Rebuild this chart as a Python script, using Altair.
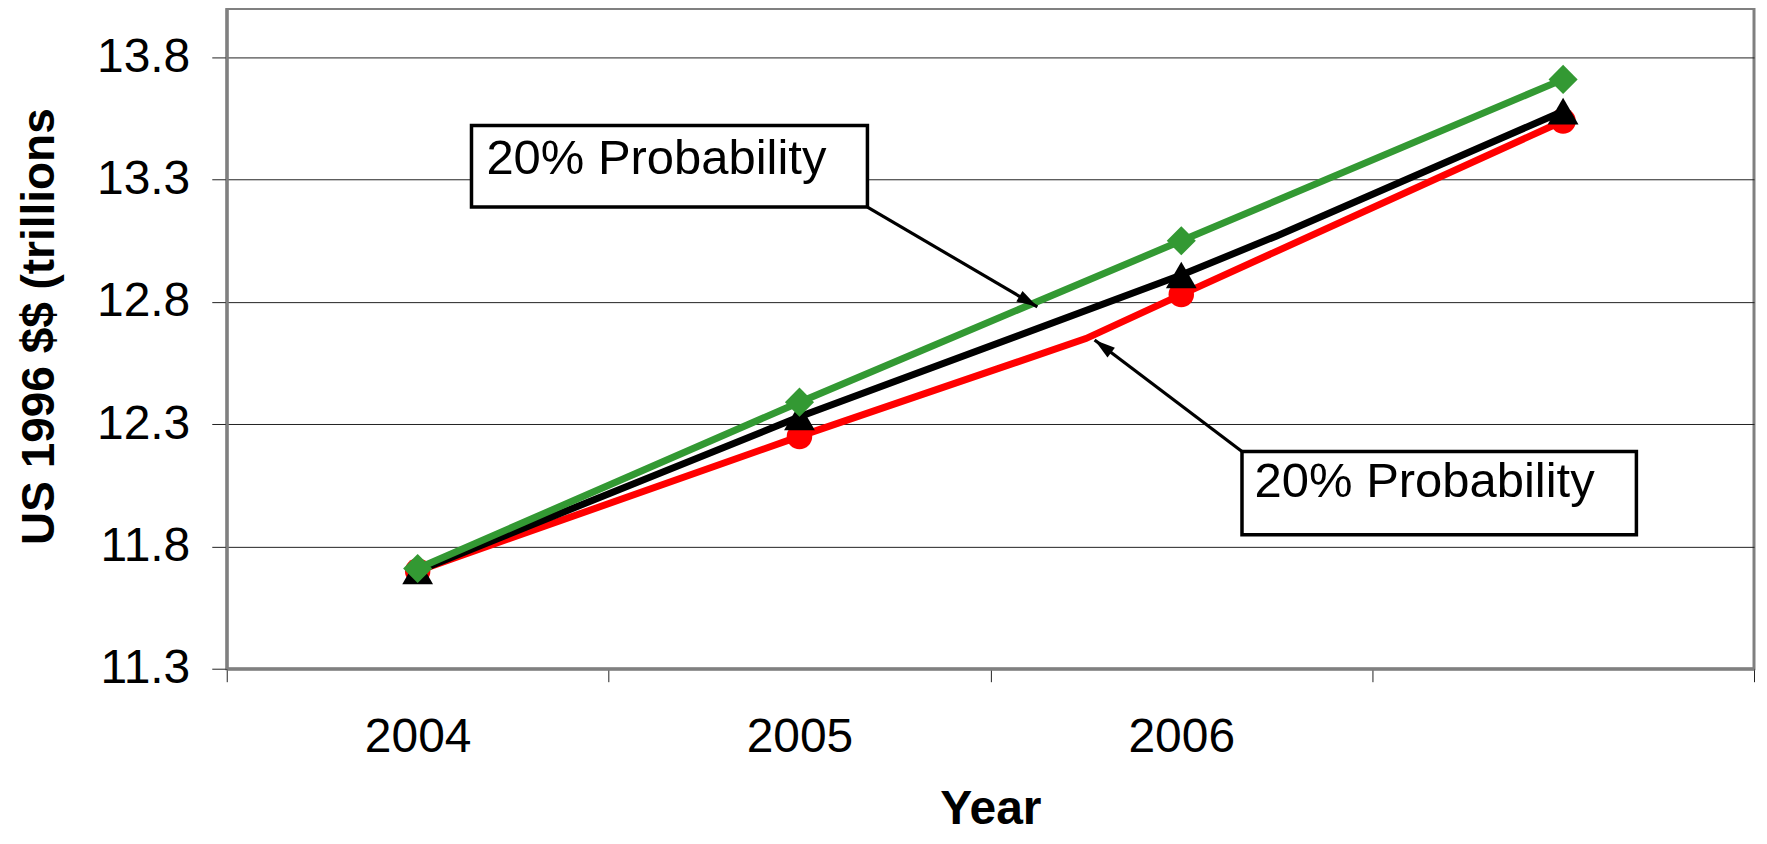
import altair as alt
import pandas as pd

# ---- data ----
years = [2004, 2005, 2006, 2007]
high_vals = [11.71, 12.39, 13.05, 13.71]   # green diamonds
mid_vals = [11.70, 12.33, 12.91, 13.58]    # black triangles
low_vals = [11.70, 12.25, 12.83, 13.54]    # red circles

mid_line_years = [2004, 2005, 2006, 2006.25, 2007]
mid_line_vals = [11.70, 12.33, 12.91, 13.07, 13.58]
low_line_years = [2004, 2005, 2005.75, 2006, 2007]
low_line_vals = [11.70, 12.25, 12.65, 12.83, 13.54]

y_ticks = [11.3, 11.8, 12.3, 12.8, 13.3, 13.8]
x_ticks = [2003.5, 2004, 2004.5, 2005, 2005.5, 2006, 2006.5, 2007, 2007.5]
x_labels = [2004, 2005, 2006]

note_texts = ["20% Probability", "20% Probability"]
box_x1 = [2004.141, 2006.159]
box_x2 = [2005.178, 2007.192]
box_y1 = [13.521, 12.188]
box_y2 = [13.188, 11.848]
text_x = [2004.18, 2006.192]
text_y = [13.324, 12.002]
arrow_x1 = [2005.178, 2006.159]
arrow_y1 = [13.188, 12.188]
arrow_x2 = [2005.623, 2005.773]
arrow_y2 = [12.780, 12.644]
arrow_angle = [120.5, 307.1]

FONT = "Liberation Sans"
GREEN = "#339933"
RED = "#FF0000"
BLACK = "#000000"

label_test = " || ".join(f"datum.value == {v}" for v in x_labels)

x_scale = alt.Scale(domain=[2003.5, 2007.5], nice=False, zero=False)
y_scale = alt.Scale(domain=[11.3, 14.0], nice=False, zero=False)

x_axis = alt.Axis(
    values=x_ticks,
    labelExpr=f"({label_test}) ? format(datum.value, 'd') : ''",
    labelOverlap=False,
    labelFont=FONT, labelFontSize=48, labelColor="black",
    labelPadding=32, tickSize=13, tickColor="#222", tickWidth=1,
    tickOpacity={"condition": {"test": "datum.value % 1 === 0", "value": 0}, "value": 1},
    domainColor="#808080", domainWidth=3, grid=False,
    title="Year", titleFont=FONT, titleFontSize=48, titleFontWeight="bold",
    titleColor="black", titlePadding=24,
)
y_axis = alt.Axis(
    values=y_ticks, format=".1f",
    labelFont=FONT, labelFontSize=48, labelColor="black",
    labelPadding=22, tickSize=15, tickColor="#222", tickWidth=1,
    domainColor="#808080", domainWidth=3,
    grid=True, gridColor="#222", gridWidth=1,
    title="US 1996 $$ (trillions", titleFont=FONT, titleFontSize=46,
    titleFontWeight="bold", titleColor="black", titlePadding=33, titleY=318,
)


def X(field="x"):
    return alt.X(f"{field}:Q", scale=x_scale, axis=x_axis)


def Y(field="y"):
    return alt.Y(f"{field}:Q", scale=y_scale, axis=y_axis)


high_df = pd.DataFrame({"x": years, "y": high_vals})
mid_df = pd.DataFrame({"x": years, "y": mid_vals})
low_df = pd.DataFrame({"x": years, "y": low_vals})
mid_line_df = pd.DataFrame({"x": mid_line_years, "y": mid_line_vals, "o": range(len(mid_line_years))})
low_line_df = pd.DataFrame({"x": low_line_years, "y": low_line_vals, "o": range(len(low_line_years))})
high_line_df = pd.DataFrame({"x": years, "y": high_vals, "o": range(len(years))})

LW = 7
low_line = alt.Chart(low_line_df).mark_line(color=RED, strokeWidth=LW).encode(x=X(), y=Y(), order="o:Q")
low_pts = alt.Chart(low_df).mark_point(shape="circle", filled=True, size=650, color=RED, opacity=1).encode(x=X(), y=Y())
mid_line = alt.Chart(mid_line_df).mark_line(color=BLACK, strokeWidth=LW).encode(x=X(), y=Y(), order="o:Q")
mid_pts = alt.Chart(mid_df).mark_point(shape="triangle-up", filled=True, size=950, color=BLACK, opacity=1).encode(x=X(), y=Y())
high_line = alt.Chart(high_line_df).mark_line(color=GREEN, strokeWidth=LW).encode(x=X(), y=Y(), order="o:Q")
high_pts = alt.Chart(high_df).mark_point(shape="diamond", filled=True, size=850, color=GREEN, opacity=1).encode(x=X(), y=Y())

notes_df = pd.DataFrame({
    "text": note_texts,
    "bx1": box_x1, "bx2": box_x2, "by1": box_y1, "by2": box_y2,
    "tx": text_x, "ty": text_y,
    "ax1": arrow_x1, "ay1": arrow_y1, "ax2": arrow_x2, "ay2": arrow_y2,
    "ang": arrow_angle,
})

boxes = alt.Chart(notes_df).mark_rect(fill="white", stroke="black", strokeWidth=3.5).encode(
    x=X("bx1"), x2="bx2", y=Y("by1"), y2="by2")
texts = alt.Chart(notes_df).mark_text(
    align="left", baseline="alphabetic", font=FONT, fontSize=49, color="black"
).encode(x=X("tx"), y=Y("ty"), text="text:N")
arrows = alt.Chart(notes_df).mark_rule(color="black", strokeWidth=3.2).encode(
    x=X("ax1"), y=Y("ay1"), x2="ax2", y2="ay2")
heads = alt.Chart(notes_df).mark_point(
    shape="M0,0 L-0.5,1.7 L0.5,1.7 Z", filled=True, size=600, color="black", opacity=1
).encode(x=X("ax2"), y=Y("ay2"), angle=alt.Angle("ang:Q", scale=None))

chart = alt.layer(
    low_line, low_pts, mid_line, mid_pts, high_line, high_pts,
    boxes, texts, arrows, heads,
).properties(
    width=1529, height=661,
    autosize=alt.AutoSizeParams(type="none"),
    padding={"left": 219, "top": 0, "right": 5, "bottom": 167},
    background="white",
).configure_view(stroke="#808080", strokeWidth=3)

chart.save("out.html", embed_options={"renderer": "svg", "actions": False})
